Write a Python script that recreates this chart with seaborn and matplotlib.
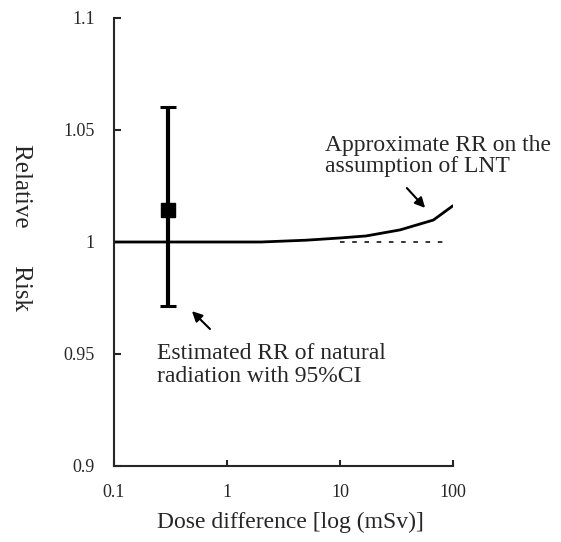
import matplotlib
matplotlib.use("Agg")
import matplotlib.pyplot as plt
import seaborn as sns
import pandas as pd

# Data
lnt_dose = [0.1, 1, 2, 5, 10, 17, 34, 67, 100]
lnt_rr = [1.0, 1.0, 1.0, 1.0008, 1.0018, 1.0027, 1.0054, 1.0098, 1.0162]
ref_dose = [10, 81]
ref_rr = [1.0, 1.0]
nat_dose = [0.3]
nat_rr = [1.0143]
nat_lo = [0.9714]
nat_hi = [1.0604]
xticks = [0.1, 1, 10, 100]
xticklabels = ["0.1", "1", "10", "100"]
yticks = [0.9, 0.95, 1.0, 1.05, 1.1]
yticklabels = ["0.9", "0.95", "1", "1.05", "1.1"]

sns.set_style("ticks")
plt.rcParams['font.family'] = ['Liberation Serif', 'DejaVu Serif']

fig = plt.figure(figsize=(5.61, 5.42), dpi=100)
ax = fig.add_axes([114 / 561, (542 - 466) / 542, 339 / 561, 448 / 542])

df = pd.DataFrame({"dose": lnt_dose, "rr": lnt_rr})
sns.lineplot(data=df, x="dose", y="rr", ax=ax, color="black", linewidth=2.0)
dfr = pd.DataFrame({"dose": ref_dose, "rr": ref_rr})
sns.lineplot(data=dfr, x="dose", y="rr", ax=ax, color="black", linewidth=1.1,
             linestyle=(0, (3, 5)))

yerr = [[nat_rr[0] - nat_lo[0]], [nat_hi[0] - nat_rr[0]]]
ax.errorbar(nat_dose, nat_rr, yerr=yerr, fmt="s", color="black", ms=10,
            elinewidth=3, capsize=6, capthick=2.2, zorder=5)

ax.set_xscale("log")
ax.set_xlim(0.1, 100)
ax.set_ylim(0.9, 1.1)
ax.set_xticks(xticks)
ax.set_xticklabels(xticklabels)
ax.xaxis.set_minor_locator(matplotlib.ticker.NullLocator())
ax.set_yticks(yticks)
ax.set_yticklabels(yticklabels)
ax.tick_params(axis="x", direction="in", length=4, width=1.5, labelsize=13, pad=13)
ax.tick_params(axis="y", direction="in", length=5, width=1.5, labelsize=13, pad=14)
for s in ["top", "right"]:
    ax.spines[s].set_visible(False)
for s in ["left", "bottom"]:
    ax.spines[s].set_linewidth(1.5)

ax.set_xlabel("Dose difference [log (mSv)]", fontsize=17, va="center", ha="center")
ax.xaxis.set_label_coords(0.519, -0.125)
ax.set_ylabel("Relative      Risk", fontsize=18, rotation=270, va="center", ha="center")
ax.yaxis.set_label_coords(-0.274, 0.533)

ax.text(0.622, 0.692, "Approximate RR on the\nassumption of LNT", fontsize=17,
        ha="left", va="center", linespacing=1.05, transform=ax.transAxes)
ax.annotate("", xy=(58.9, 1.0143), xytext=(37.6, 1.025),
            arrowprops=dict(arrowstyle="-|>", color="black", lw=1.5, mutation_scale=15))
ax.text(0.127, 0.2254, "Estimated RR of natural\nradiation with 95%CI", fontsize=17,
        ha="left", va="center", linespacing=1.1, transform=ax.transAxes)
ax.annotate("", xy=(0.47, 0.970), xytext=(0.736, 0.9603),
            arrowprops=dict(arrowstyle="-|>", color="black", lw=1.5, mutation_scale=15))

fig.savefig("out.png", dpi=100)
